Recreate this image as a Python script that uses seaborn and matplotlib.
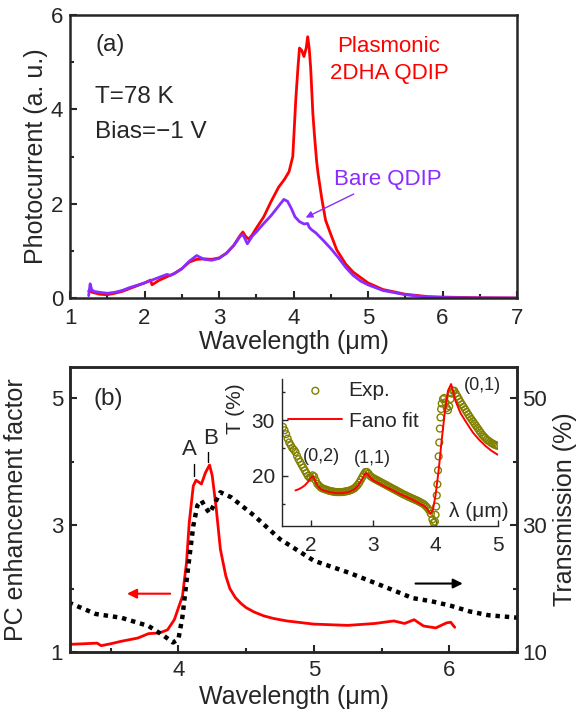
import numpy as np
import pandas as pd
import seaborn as sns
import matplotlib.pyplot as plt
from matplotlib.ticker import MultipleLocator

# ---------------- data ----------------
# panel (a): photocurrent spectra
wl_plasmonic = [1.25, 1.3, 1.4, 1.5, 1.6, 1.7, 1.8, 1.9, 2.0, 2.08, 2.1, 2.15, 2.2, 2.3,
                2.4, 2.5, 2.6, 2.7, 2.8, 2.9, 3.0, 3.1, 3.2, 3.28, 3.32, 3.36, 3.4, 3.45,
                3.5, 3.6, 3.7, 3.8, 3.88, 3.94, 3.99, 4.03, 4.06, 4.08, 4.11, 4.14, 4.17,
                4.19, 4.21, 4.23, 4.26, 4.28, 4.31, 4.33, 4.38, 4.43, 4.5, 4.58, 4.7,
                4.8, 5.0, 5.2, 5.5, 5.8, 6.0, 6.5, 7.0]
pc_plasmonic = [0.15, 0.12, 0.08, 0.07, 0.1, 0.14, 0.2, 0.26, 0.32, 0.38, 0.28, 0.33, 0.38,
                0.45, 0.52, 0.62, 0.76, 0.82, 0.83, 0.82, 0.85, 0.95, 1.12, 1.32, 1.4, 1.3,
                1.25, 1.35, 1.48, 1.72, 2.05, 2.35, 2.52, 2.68, 3.0, 4.2, 4.9, 5.3, 5.25,
                5.12, 5.3, 5.54, 5.3, 4.88, 3.9, 3.47, 2.9, 2.63, 2.1, 1.65, 1.35, 1.02,
                0.72, 0.55, 0.32, 0.18, 0.08, 0.03, 0.02, 0.005, 0.0]
wl_bare = [1.25, 1.27, 1.29, 1.32, 1.4, 1.5, 1.6, 1.7, 1.8, 1.9, 2.0, 2.1, 2.2, 2.3, 2.35,
           2.4, 2.5, 2.6, 2.7, 2.8, 2.9, 3.0, 3.1, 3.2, 3.28, 3.32, 3.35, 3.38, 3.45, 3.5,
           3.6, 3.7, 3.8, 3.87, 3.92, 3.97, 4.02, 4.08, 4.14, 4.19, 4.21, 4.24, 4.3, 4.4,
           4.5, 4.6, 4.7, 4.8, 4.9, 5.0, 5.2, 5.5, 5.8, 6.0, 6.5, 7.0]
pc_bare = [0.05, 0.3, 0.18, 0.14, 0.12, 0.1, 0.12, 0.16, 0.22, 0.27, 0.32, 0.38, 0.44, 0.5,
           0.48, 0.52, 0.62, 0.78, 0.9, 0.82, 0.8, 0.84, 0.95, 1.12, 1.3, 1.35, 1.25, 1.15,
           1.32, 1.4, 1.58, 1.75, 1.95, 2.09, 2.05, 1.9, 1.72, 1.62, 1.57, 1.58, 1.5, 1.45,
           1.38, 1.22, 1.05, 0.86, 0.65, 0.48, 0.36, 0.28, 0.16, 0.07, 0.02, 0.01, 0.003, 0.0]

# panel (b): PC enhancement factor and transmission
wl_enh = [3.19, 3.3, 3.4, 3.43, 3.5, 3.58, 3.7, 3.78, 3.86, 3.92, 3.97, 4.03, 4.06, 4.08,
          4.11, 4.13, 4.17, 4.2, 4.23, 4.25, 4.28, 4.31, 4.35, 4.38, 4.42, 4.46, 4.5, 4.56,
          4.63, 4.7, 4.8, 5.0, 5.25, 5.45, 5.59, 5.67, 5.74, 5.81, 5.9, 5.98, 6.01, 6.04]
enhancement = [1.12, 1.13, 1.14, 1.1, 1.13, 1.17, 1.22, 1.29, 1.3, 1.35, 1.51, 1.88, 2.41,
               3.04, 3.62, 3.71, 3.65, 3.83, 3.95, 3.78, 3.25, 2.62, 2.2, 2.0, 1.86, 1.77,
               1.7, 1.63, 1.57, 1.53, 1.49, 1.44, 1.42, 1.45, 1.49, 1.45, 1.51, 1.41, 1.38,
               1.46, 1.47, 1.39]
wl_trans = [3.19, 3.39, 3.58, 3.78, 3.89, 3.96, 4.0, 4.03, 4.07, 4.11, 4.14, 4.17, 4.2, 4.23,
            4.26, 4.31, 4.39, 4.56, 4.75, 5.0, 5.26, 5.51, 5.73, 5.87, 6.01, 6.15, 6.29, 6.51]
transmission = [17.8, 16.0, 15.4, 14.1, 12.6, 11.5, 12.0, 15.6, 23.0, 29.9, 33.1, 33.9,
                32.8, 31.9, 33.1, 35.2, 34.4, 31.5, 27.8, 24.4, 22.5, 20.4, 18.5, 18.0,
                17.3, 16.4, 15.8, 15.4]

# inset: transmission spectrum (Exp.) and Fano fit
wl_exp = [1.55, 1.575, 1.6, 1.625, 1.65, 1.675, 1.7, 1.725, 1.75, 1.775, 1.8, 1.825, 1.85,
          1.875, 1.9, 1.925, 1.95, 1.975, 2.0, 2.025, 2.05, 2.075, 2.1, 2.125, 2.15, 2.175,
          2.2, 2.225, 2.25, 2.275, 2.3, 2.325, 2.35, 2.375, 2.4, 2.425, 2.45, 2.475, 2.5,
          2.525, 2.55, 2.575, 2.6, 2.625, 2.65, 2.675, 2.7, 2.725, 2.75, 2.775, 2.8, 2.825,
          2.85, 2.875, 2.9, 2.925, 2.95, 2.975, 3.0, 3.025, 3.05, 3.075, 3.1, 3.125, 3.15,
          3.175, 3.2, 3.225, 3.25, 3.275, 3.3, 3.325, 3.35, 3.375, 3.4, 3.425, 3.45, 3.475,
          3.5, 3.525, 3.55, 3.575, 3.6, 3.625, 3.65, 3.675, 3.7, 3.725, 3.75, 3.775, 3.8,
          3.825, 3.85, 3.875, 3.9, 3.925, 3.95, 3.97, 3.99, 4.0, 4.01, 4.02, 4.03, 4.04,
          4.05, 4.06, 4.07, 4.08, 4.09, 4.1, 4.12, 4.14, 4.16, 4.18, 4.2, 4.22, 4.24, 4.26,
          4.28, 4.3, 4.325, 4.35, 4.375, 4.4, 4.425, 4.45, 4.475, 4.5, 4.525, 4.55, 4.575,
          4.6, 4.625, 4.65, 4.675, 4.7, 4.725, 4.75, 4.775, 4.8, 4.825, 4.85, 4.875, 4.9,
          4.925, 4.95, 4.975, 5.0]
t_exp = [28.8, 28.2, 27.5, 26.7, 26.0, 25.5, 25.0, 24.7, 24.3, 23.6, 23.0, 22.5, 22.0, 21.5,
         21.0, 20.5, 20.0, 19.7, 19.7, 20.1, 19.9, 19.2, 18.6, 18.3, 18.0, 17.8, 17.7, 17.6,
         17.5, 17.4, 17.3, 17.25, 17.2, 17.15, 17.1, 17.1, 17.1, 17.1, 17.1, 17.15, 17.2,
         17.25, 17.3, 17.4, 17.5, 17.65, 17.8, 18.1, 18.4, 18.8, 19.3, 19.8, 20.3, 20.7,
         20.7, 20.4, 20.0, 19.8, 19.6, 19.45, 19.3, 19.15, 19.0, 18.85, 18.7, 18.55, 18.4,
         18.25, 18.1, 17.95, 17.8, 17.65, 17.5, 17.35, 17.2, 17.05, 16.9, 16.75, 16.6,
         16.5, 16.35, 16.2, 16.1, 15.95, 15.85, 15.7, 15.6, 15.45, 15.3, 15.15, 15.0, 14.8,
         14.5, 14.2, 13.8, 13.2, 12.2, 11.6, 11.8, 13.0, 14.5, 16.5, 18.5, 21.0, 23.5,
         26.0, 28.5, 30.5, 32.0, 33.0, 33.8, 34.0, 33.2, 32.2, 31.8, 32.5, 33.8, 34.8,
         35.3, 35.3, 34.8, 34.3, 33.8, 33.3, 32.85, 32.4, 31.95, 31.5, 31.05, 30.6, 30.2,
         29.8, 29.4, 29.0, 28.6, 28.2, 27.8, 27.4, 27.1, 26.8, 26.5, 26.3, 26.1, 25.9,
         25.75, 25.6, 25.5, 25.4]
wl_fit = [1.75, 1.8, 1.85, 1.9, 1.95, 2.0, 2.03, 2.06, 2.1, 2.15, 2.2, 2.3, 2.4, 2.5, 2.6,
          2.7, 2.75, 2.8, 2.85, 2.88, 2.92, 2.96, 3.0, 3.1, 3.2, 3.3, 3.4, 3.5, 3.6, 3.7,
          3.8, 3.85, 3.9, 3.92, 3.96, 4.0, 4.05, 4.1, 4.15, 4.2, 4.25, 4.28, 4.32, 4.4,
          4.5, 4.6, 4.7, 4.8, 4.9, 5.0]
t_fit = [17.4, 17.6, 17.9, 18.3, 18.9, 19.7, 19.9, 19.3, 18.3, 17.7, 17.4, 17.1, 16.9, 16.9,
         17.1, 17.6, 18.2, 19.0, 20.0, 20.5, 20.2, 19.6, 19.2, 18.6, 18.0, 17.5, 16.9, 16.4,
         15.9, 15.3, 14.7, 14.3, 13.5, 13.2, 14.0, 16.5, 21.0, 26.5, 31.5, 35.3, 36.5,
         35.3, 33.5, 31.3, 29.5, 27.8, 26.5, 25.4, 24.5, 23.8]

RED = "#ff0000"
PURPLE = "#8a2bff"
OLIVE = "#808000"

sns.set_style("ticks", {"xtick.direction": "in", "ytick.direction": "in"})
plt.rcParams["font.family"] = ["Liberation Sans", "DejaVu Sans"]

fig = plt.figure(figsize=(5.87, 7.15), dpi=100)


def style_axis(ax, lw=1.8):
    for s in ax.spines.values():
        s.set_linewidth(lw)
    ax.tick_params(which="major", length=5, width=1.5, labelsize=16)
    ax.tick_params(which="minor", length=3, width=1.5)


# ---------------- panel (a) ----------------
ax_a = fig.add_axes([0.1193, 0.5832, 0.7615, 0.3958])
sns.lineplot(x=wl_plasmonic, y=pc_plasmonic, ax=ax_a, color=RED, lw=2)
sns.lineplot(x=wl_bare, y=pc_bare, ax=ax_a, color=PURPLE, lw=2)
ax_a.set_xlim(1, 7)
ax_a.set_ylim(0, 6)
ax_a.xaxis.set_major_locator(MultipleLocator(1))
ax_a.xaxis.set_minor_locator(MultipleLocator(0.5))
ax_a.yaxis.set_major_locator(MultipleLocator(2))
ax_a.yaxis.set_minor_locator(MultipleLocator(1))
style_axis(ax_a)
ax_a.tick_params(axis="x", pad=7)
ax_a.tick_params(axis="y", pad=5)
ax_a.set_xlabel("Wavelength (\u03bcm)", fontsize=18)
ax_a.set_ylabel("Photocurrent (a. u.)", fontsize=18)
ax_a.xaxis.set_label_coords(0.5, -0.112)
ax_a.yaxis.set_label_coords(-0.05, 0.5)

ax_a.text(1.54, 5.36, "(a)", fontsize=17.5, ha="center", va="center")
ax_a.text(1.33, 4.27, "T=78 K", fontsize=17.5, ha="left", va="center")
ax_a.text(1.33, 3.53, "Bias=\u22121 V", fontsize=17.5, ha="left", va="center")
ax_a.text(5.28, 5.34, "Plasmonic", fontsize=16, color=RED, ha="center", va="center")
ax_a.text(5.28, 4.75, "2DHA QDIP", fontsize=16, color=RED, ha="center", va="center")
ax_a.text(5.27, 2.52, "Bare QDIP", fontsize=16, color=PURPLE, ha="center", va="center")
ax_a.annotate("", xy=(4.13, 1.68), xytext=(4.84, 2.23),
              arrowprops=dict(arrowstyle="-|>", color=PURPLE, lw=1, mutation_scale=10))

# ---------------- panel (b) ----------------
ax_b = fig.add_axes([0.1193, 0.0881, 0.7615, 0.3990])
ax_t = ax_b.twinx()
sns.lineplot(x=wl_enh, y=enhancement, ax=ax_b, color=RED, lw=2)
sns.lineplot(x=wl_trans, y=transmission, ax=ax_t, color="black", lw=3.2)
ax_t.lines[0].set_linestyle((0, (1, 1.1)))
ax_b.set_xlim(3.2, 6.5)
ax_b.set_ylim(1, 5.5)
ax_t.set_ylim(10, 55)
ax_b.xaxis.set_major_locator(MultipleLocator(1))
ax_b.xaxis.set_minor_locator(MultipleLocator(0.5))
ax_b.yaxis.set_major_locator(MultipleLocator(2, offset=1))
ax_b.yaxis.set_minor_locator(MultipleLocator(1))
ax_t.yaxis.set_major_locator(MultipleLocator(20, offset=10))
ax_t.yaxis.set_minor_locator(MultipleLocator(10))
style_axis(ax_b)
style_axis(ax_t)
ax_b.tick_params(axis="x", pad=6)
ax_b.tick_params(axis="y", pad=5)
ax_t.tick_params(axis="y", pad=3.5)
ax_b.set_xlabel("Wavelength (\u03bcm)", fontsize=18)
ax_b.set_ylabel("PC enhancement factor", fontsize=18)
ax_t.set_ylabel("Transmission (%)", fontsize=18)
ax_b.xaxis.set_label_coords(0.5, -0.115)
ax_b.yaxis.set_label_coords(-0.094, 0.5)
ax_t.yaxis.set_label_coords(1.08, 0.5)

ax_b.text(3.48, 4.99, "(b)", fontsize=17.5, ha="center", va="center")
ax_b.text(4.08, 4.2, "A", fontsize=16, ha="center", va="center")
ax_b.text(4.235, 4.36, "B", fontsize=16, ha="center", va="center")
ax_b.plot([4.117, 4.117], [3.78, 3.97], color="black", lw=1)
ax_b.plot([4.22, 4.22], [4.0, 4.15], color="black", lw=1)
ax_b.annotate("", xy=(3.6, 1.92), xytext=(3.96, 1.92),
              arrowprops=dict(arrowstyle="-|>", color=RED, lw=1.5, mutation_scale=14))
ax_b.annotate("", xy=(6.12, 2.08), xytext=(5.73, 2.08),
              arrowprops=dict(arrowstyle="-|>", color="black", lw=1.5, mutation_scale=14))

# ---------------- inset ----------------
ax_in = fig.add_axes([0.480, 0.2643, 0.368, 0.2056])
ax_in.set_facecolor("none")
sns.scatterplot(x=wl_exp, y=t_exp, ax=ax_in, marker="o", s=24, facecolors="none",
                edgecolor=OLIVE, linewidth=1, label="Exp.")
sns.lineplot(x=wl_fit, y=t_fit, ax=ax_in, color=RED, lw=1.4, label="Fano fit")
ax_in.set_xlim(1.53, 5.0)
ax_in.set_ylim(11, 37.4)
ax_in.xaxis.set_major_locator(MultipleLocator(1))
ax_in.yaxis.set_major_locator(MultipleLocator(10))
ax_in.yaxis.set_minor_locator(MultipleLocator(5))
for side in ["top", "right"]:
    ax_in.spines[side].set_visible(False)
for s in ["left", "bottom"]:
    ax_in.spines[s].set_linewidth(1)
ax_in.tick_params(which="major", length=4, width=1, labelsize=15)
ax_in.tick_params(which="minor", length=2.5, width=1)
ax_in.tick_params(axis="x", pad=7)
ax_in.tick_params(axis="y", pad=5)
ax_in.set_xlabel("")
ax_in.set_ylabel("T (%)", fontsize=15)
ax_in.yaxis.set_label_coords(-0.17, 0.8)
ax_in.text(4.70, 13.6, "\u03bb (\u03bcm)", fontsize=15, ha="center", va="center")
ax_in.text(2.17, 23.4, "(0,2)", fontsize=13, ha="center", va="center")
ax_in.text(2.98, 23.2, "(1,1)", fontsize=13, ha="center", va="center")
ax_in.text(4.75, 36.3, "(0,1)", fontsize=13, ha="center", va="center")
ax_in.legend(loc="upper left", bbox_to_anchor=(0.03, 0.985), frameon=False,
             fontsize=15, handlelength=2.6, handletextpad=0.3, labelspacing=0.55,
             borderaxespad=0, borderpad=0)

fig.savefig("out.png", dpi=100)
